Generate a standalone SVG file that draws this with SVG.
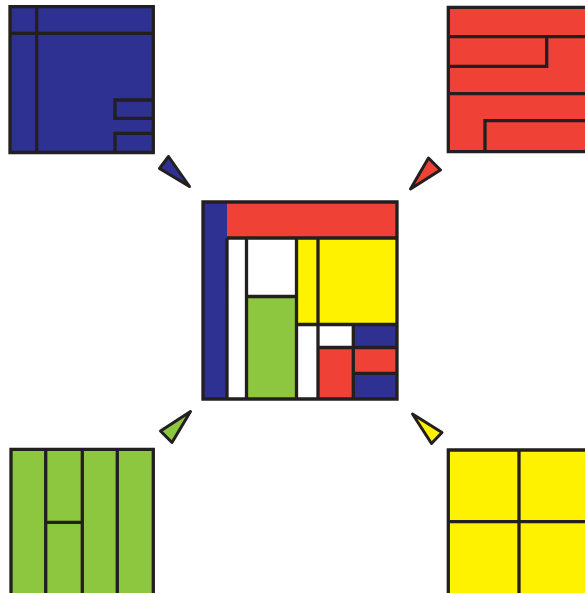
<svg xmlns="http://www.w3.org/2000/svg" width="585" height="593" viewBox="0 0 585 593">
<style>
.k{stroke:#231F20;stroke-width:3.3;fill:none}
.b{fill:#2E3192}
.r{fill:#EF4136}
.y{fill:#FFF200}
.g{fill:#8DC63F}
.w{fill:#FFFFFF}
.t{stroke:#231F20;stroke-width:3;stroke-linejoin:round}
</style>
<rect width="585" height="593" fill="#FFFFFF"/>
<g id="blue-square">
<rect class="b" x="10" y="6.7" width="143.3" height="145.8"/>
<path class="k" d="M10 6.7H153.3V152.5H10Z M36.7 6.7V152.5 M10 33.3H153.3 M153.3 100H115V118.3H153.3 M115 152.5V133.3H153.3"/>
</g>
<g id="red-square">
<rect class="r" x="448.3" y="7.3" width="160" height="144.4"/>
<path class="k" d="M600 7.3H448.3V151.7H600 M448.3 36.7H600 M448.3 66.3H546.7V36.7 M448.3 93.7H600 M600 120.7H485V151.7"/>
</g>
<g id="green-square">
<rect class="g" x="11" y="449.3" width="142.3" height="160"/>
<path class="k" d="M11 600V449.3H153.3V600 M45.7 449.3V600 M82.3 449.3V600 M117.3 449.3V600 M45.7 522.3H82.3 M11 600H153.3"/>
</g>
<g id="yellow-square">
<rect class="y" x="448.3" y="450" width="160" height="160"/>
<path class="k" d="M448.3 600V450H600 M519 450V600 M448.3 521.7H600"/>
</g>
<g id="center-square">
<rect class="b" x="203" y="202" width="24" height="197"/>
<rect class="r" x="227" y="202" width="170" height="36"/>
<rect class="w" x="227" y="238" width="19.5" height="161"/>
<rect class="w" x="246.5" y="238" width="50" height="58.5"/>
<rect class="g" x="246.5" y="296.5" width="50" height="102.5"/>
<rect class="y" x="296.5" y="238" width="21.5" height="86.5"/>
<rect class="y" x="318" y="238" width="79" height="86.5"/>
<rect class="w" x="296.5" y="324.5" width="21.5" height="74.5"/>
<rect class="w" x="318" y="324.5" width="35.3" height="23"/>
<rect class="r" x="318" y="347.5" width="35.3" height="51.5"/>
<rect class="b" x="353.3" y="324.5" width="43.7" height="23"/>
<rect class="r" x="353.3" y="347.5" width="43.7" height="25.8"/>
<rect class="b" x="353.3" y="373.3" width="43.7" height="25.7"/>
<path class="k" d="M203 202H397V399H203Z M227 238V399 M227 238H397 M246.5 238V399 M246.5 296.5H296.5 M296.5 238V399 M318 238V399 M296.5 324.5H397 M318 347.5H397 M353.3 324.5V399 M353.3 373.3H397"/>
</g>
<g id="connectors">
<polygon class="t b" points="159.5,168.5 168.5,156.5 189.5,186.5"/>
<polygon class="t r" points="410.5,189 428.5,158 440.5,170"/>
<polygon class="t g" points="160.5,431 190.5,411.5 172,442.5"/>
<polygon class="t y" points="412.5,414 442,432.5 431.5,443.5"/>
</g>
</svg>
